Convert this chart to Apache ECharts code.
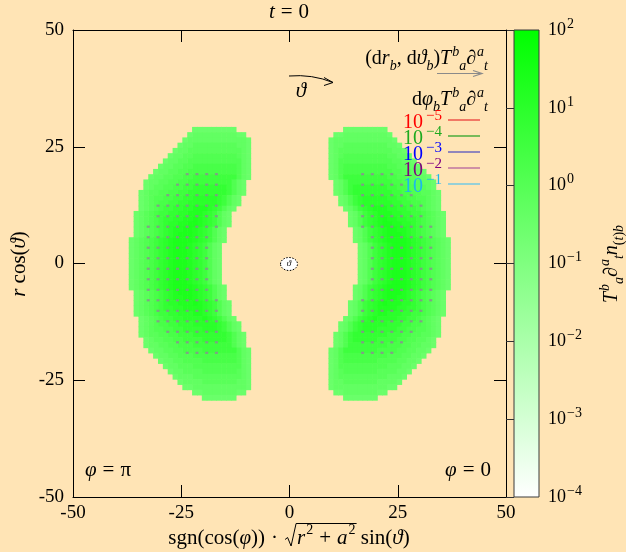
<!DOCTYPE html>
<html><head><meta charset="utf-8">
<script src="https://cdn.jsdelivr.net/npm/echarts@6/dist/echarts.min.js"></script>
<style>html,body{margin:0;padding:0;background:#ffe4b5}#c{width:626px;height:552px}</style>
</head><body><div id="c"></div>
<script>
// grid spacing of the sampled field (data units)
const cellSize = 1.125;
// right-hand lobe (phi = 0); left lobe (phi = pi) is its mirror image
const rowY = [25,24,23,22,21,20,19,18,17,16,15,14,13,12,11,10,9,8,7,6,5,4,3,2,1,0,-1,-2,-3,-4,-5,-6,-7,-8,-9,-10,-11,-12,-13,-14,-15,-16,-17,-18,-19,-20,-21,-22,-23,-24,-25,-26];
const rowX0 = [11,9,8,8,8,8,8,8,8,8,9,9,9,10,10,11,12,12,12,13,13,13,14,14,14,14,14,14,14,14,13,13,13,12,12,12,11,10,10,9,9,9,8,8,8,8,8,8,8,8,9,11];
const rowLevels = [
"000000000",
"001111111110",
"01111111111110",
"011222222222110",
"0122222222222110",
"01233333333322110",
"013333333333322110",
"0134444444443322110",
"01344444444443322110",
"013555555555443322110",
"013555555555443322110",
"013566666665544332210",
"0135666666665544332210",
"013567777766554433210",
"013567777776655443210",
"01356788877665543210",
"01356788877665543210",
"01356789887766543210",
"01356789988776543210",
"0135678998876543210",
"0135678999876543210",
"01356789999876543210",
"0135678999876543210",
"0135678999876543210",
"0135678999876543210",
"0135678999876543210",
"0135678999876543210",
"0135678999876543210",
"0135678999876543210",
"0135678999876543210",
"01356789999876543210",
"0135678999876543210",
"0135678998876543210",
"01356789888776543210",
"01356788887766543210",
"01356788777665543210",
"01356787777665543210",
"013567777766655443210",
"013567776666554433210",
"0135666666655544332210",
"013566666555544332210",
"013555555554443322110",
"013555555544443322110",
"01344444444433322110",
"0134444444333322110",
"013333333333222110",
"01233333332222110",
"0122222222221110",
"011222222211110",
"01111111111100",
"00111111100",
"0000000"
];
// value of T^b_a d^a_t n_(t)b for each level code
const levelValue = [0.32, 0.5, 0.79, 1.26, 2.0, 3.5, 6.3, 10, 16, 22];
// arrow grid (odd grid indices), right lobe; left lobe mirrored
const dotGridY = [17,15,13,11,9,7,5,3,1,-1,-3,-5,-7,-9,-11,-13,-15,-17];
const dotFrom  = [15,15,15,15,15,15,17,17,17,17,17,17,15,15,15,15,15,15];
const dotTo    = [21,23,25,27,27,29,29,29,29,29,29,29,29,27,27,25,23,21];
const cbarMin = 1e-4, cbarMax = 1e2;
const keyLabels = ['−5','−4','−3','−2','−1'];

const s = cellSize;
const heat = [];
rowY.forEach((b, r) => {
  const lv = rowLevels[r];
  for (let k = 0; k < lv.length; k++) {
    const i = rowX0[r] + k;
    const v = Math.log10(levelValue[+lv[k]]);
    heat.push([i*s, b*s, (i+1)*s, (b+1)*s, v]);
    heat.push([-(i+1)*s, b*s, -i*s, (b+1)*s, v]);
  }
});
const dots = [];
dotGridY.forEach((g, r) => {
  for (let c = dotFrom[r]; c <= dotTo[r]; c += 2) {
    dots.push([c*s, g*s]); dots.push([-c*s, g*s]);
  }
});

const F = '"Liberation Serif","DejaVu Serif",serif';
function richSet(base, color, supSize, supPad){
  const sup = supSize || Math.round(base*0.7);
  const sp = supPad || 1;
  const c = {fill:color, color:color, fontFamily:F};
  return {
    n: Object.assign({fontSize:base, lineHeight:base+8}, c),
    i: Object.assign({fontSize:base, fontStyle:'italic', lineHeight:base+8}, c),
    op: Object.assign({fontSize:base, lineHeight:base+8, padding:[0,6,0,6]}, c),
    sp: Object.assign({fontSize:sup, lineHeight:sup, verticalAlign:'top', padding:[0,0,0,sp]}, c),
    spi: Object.assign({fontSize:sup, fontStyle:'italic', lineHeight:sup, verticalAlign:'top', padding:[0,0,0,1]}, c),
    sb: Object.assign({fontSize:sup, lineHeight:sup, verticalAlign:'bottom'}, c),
    sbi: Object.assign({fontSize:sup, fontStyle:'italic', lineHeight:sup, verticalAlign:'bottom'}, c)
  };
}
function txt(x, y, text, rich, align, extra){
  return Object.assign({type:'text', x:x, y:y, z:100, silent:true,
    style:{text:text, rich:rich, align:align||'center', verticalAlign:'middle', fontFamily:F, fontSize:20}}, extra||{});
}
const R21 = richSet(21, '#000', 14);
const R20 = richSet(20, '#000', 14);
const keyText = ['#ff0000','#1faa1f','#0000ff','#800080','#1cb8ec'];
const keyLine = ['#e83030','#1f9f1f','#4848c0','#b05a9c','#50c4ee'];
const keyY = [120,136,152,168,184];

// measure pieces of the x-axis title to draw the radical sign
const mctx = document.createElement('canvas').getContext('2d');
function tw(t, size, it){ mctx.font = (it ? 'italic ' : '') + size + 'px ' + F; return mctx.measureText(t).width; }
const wA = tw('sgn(cos(',21) + tw('φ',21,1) + tw('))',21) + 12 + tw('·',21);
const wRad = 13;
const wB = tw('r',21,1) + tw('2',14) + 1 + 12 + tw('+',21) + tw('a',21,1) + tw('2',14) + 1;
const wC = tw(' sin(',21) + tw('ϑ',21,1) + tw(')',21);
const x0t = 289 - (wA + wRad + wB + wC) / 2;
const yT = 538;
const xs = x0t + wA + 1;

const graphic = [
  txt(289, 12, '{i|t}{op|=}{n|0}', R21),
  txt(19, 264, '{i|r}{n| cos(}{i|ϑ}{n|)}', R21, 'center', {rotation: Math.PI/2}),
  txt(x0t, yT, '{n|sgn(cos(}{i|φ}{n|))}{op|·}', R21, 'left'),
  txt(x0t + wA + wRad, yT, '{i|r}{sp|2}{op|+}{i|a}{sp|2}', R21, 'left'),
  txt(x0t + wA + wRad + wB, yT, '{n| sin(}{i|ϑ}{n|)}', R21, 'left'),
  {type:'polyline', z:100, silent:true,
    shape:{points:[[xs, yT+1.5],[xs+2.5, yT-0.5],[xs+6, yT+8],[xs+11, yT-14.5],[x0t + wA + wRad + wB + 1, yT-14.5]]},
    style:{stroke:'#000', fill:null, lineWidth:1, lineJoin:'miter'}},
  txt(108, 470, '{i|φ}{op|=}{n|π}', R21),
  txt(468, 470, '{i|φ}{op|=}{n|0}', R21),
  txt(488, 59, '{n|(d}{i|r}{sbi|b}{n|, d}{i|ϑ}{sbi|b}{n|)}{i|T}{spi|b}{sbi|a}{n|∂}{spi|a}{sbi|t}', R20, 'right'),
  txt(488, 100, '{n|d}{i|φ}{sbi|b}{i|T}{spi|b}{sbi|a}{n|∂}{spi|a}{sbi|t}', R20, 'right'),
  txt(612, 264, '{i|T}{spi|b}{sbi|a}{n|∂}{spi|a}{sbi|t}{i|n}{sb|(}{sbi|t}{sb|)}{sbi|b}', R20, 'center', {rotation: Math.PI/2}),
  {type:'line', z:100, silent:true, shape:{x1:437, y1:73.5, x2:481, y2:73.5}, style:{stroke:'#8a8a8a', lineWidth:1.2}},
  {type:'polyline', z:100, silent:true, shape:{points:[[473,70.5],[482,73.5],[473,76.5]]}, style:{stroke:'#8a8a8a', fill:null, lineWidth:1.2}},
  {type:'bezierCurve', z:100, silent:true, shape:{x1:289, y1:76, cpx1:312, cpy1:74, x2:333, y2:82.5}, style:{stroke:'#000', fill:null, lineWidth:1}},
  {type:'polyline', z:100, silent:true, shape:{points:[[324,77.5],[333,82.5],[324,85.5]]}, style:{stroke:'#000', fill:null, lineWidth:1}},
  txt(301, 91, '{i|ϑ}', R21),
  {type:'ellipse', z:100, silent:true, shape:{cx:289, cy:264, rx:8.5, ry:6.5}, style:{fill:'#fff', stroke:'#000', lineWidth:1, lineDash:[1.5,1.5]}},
  txt(289, 264, '{i|ϑ}', richSet(9,'#000'))
];
keyLabels.forEach((lab, k) => {
  graphic.push(txt(442, keyY[k]+3, '{n|10}{sp|' + lab + '}', richSet(20, keyText[k], 15, 3), 'right'));
  graphic.push({type:'line', z:100, silent:true, shape:{x1:448, y1:keyY[k], x2:480, y2:keyY[k]}, style:{stroke:keyLine[k], lineWidth:1.2}});
});

const axisCommon = {
  type:'value', min:-50, max:50, interval:25, z:10,
  axisLine:{show:true, onZero:false, lineStyle:{color:'#000', width:1}},
  axisTick:{show:true, inside:true, length:12, lineStyle:{color:'#000', width:1}},
  splitLine:{show:false}
};
const lab = {fontFamily:F, fontSize:19, color:'#000'};
const chart = echarts.init(document.getElementById('c'));
chart.setOption({
  animation:false,
  backgroundColor:'#ffe4b5',
  grid:[{left:73, top:30, width:433, height:467}, {left:514, top:30, width:25, height:467}],
  xAxis:[
    Object.assign({}, axisCommon, {gridIndex:0, position:'bottom', axisLabel:Object.assign({margin:7}, lab)}),
    Object.assign({}, axisCommon, {gridIndex:0, position:'top', axisLabel:{show:false}}),
    {gridIndex:1, type:'value', min:0, max:1, show:false}
  ],
  yAxis:[
    Object.assign({}, axisCommon, {gridIndex:0, position:'left', axisLabel:Object.assign({margin:9}, lab)}),
    Object.assign({}, axisCommon, {gridIndex:0, position:'right', axisLabel:{show:false}}),
    {gridIndex:1, type:'log', logBase:10, min:cbarMin, max:cbarMax, position:'right', z:10,
      axisLine:{show:false},
      axisTick:{show:true, inside:true, length:8, lineStyle:{color:'#333'}},
      splitLine:{show:false},
      axisLabel:{margin:9, formatter:function(v){
          const e = Math.round(Math.log10(v));
          return '{b|10}{s|' + (e < 0 ? '−' + (-e) : e) + '}';
        },
        rich:{b:{fontFamily:F, fontSize:18, lineHeight:26, color:'#000'},
              s:{fontFamily:F, fontSize:14, lineHeight:13, verticalAlign:'top', padding:[0,0,0,1], color:'#000'}}}
    }
  ],
  visualMap:[{type:'continuous', show:false, seriesIndex:0, dimension:4,
    min:Math.log10(cbarMin), max:Math.log10(cbarMax), inRange:{color:['#ffffff','#00ff00']}}],
  series:[
    {type:'custom', xAxisIndex:0, yAxisIndex:0, silent:true, z:2,
      dimensions:['x0','y0','x1','y1','v'], encode:{x:[0,2], y:[1,3]},
      data: heat,
      renderItem:function(params, api){
        const p0 = api.coord([api.value(0), api.value(3)]);
        const p1 = api.coord([api.value(2), api.value(1)]);
        return {type:'rect', shape:{x:p0[0], y:p0[1], width:p1[0]-p0[0]+0.6, height:p1[1]-p0[1]+0.6},
          style:{fill:api.visual('color')}};
      }},
    {type:'scatter', xAxisIndex:0, yAxisIndex:0, silent:true, z:3, symbol:'rect', symbolSize:[3,2.2],
      itemStyle:{color:'#8e8896'}, data:dots},
    {type:'custom', xAxisIndex:2, yAxisIndex:2, silent:true, z:2, data:[[0.5, 1]],
      renderItem:function(params, api){
        const cs = params.coordSys;
        return {type:'rect', shape:{x:cs.x, y:cs.y, width:cs.width, height:cs.height},
          style:{fill:new echarts.graphic.LinearGradient(0,0,0,1,[{offset:0,color:'#00ff00'},{offset:1,color:'#ffffff'}]),
                 stroke:'#3a3a3a', lineWidth:1}};
      }}
  ],
  graphic: graphic
});
</script>
</body></html>
